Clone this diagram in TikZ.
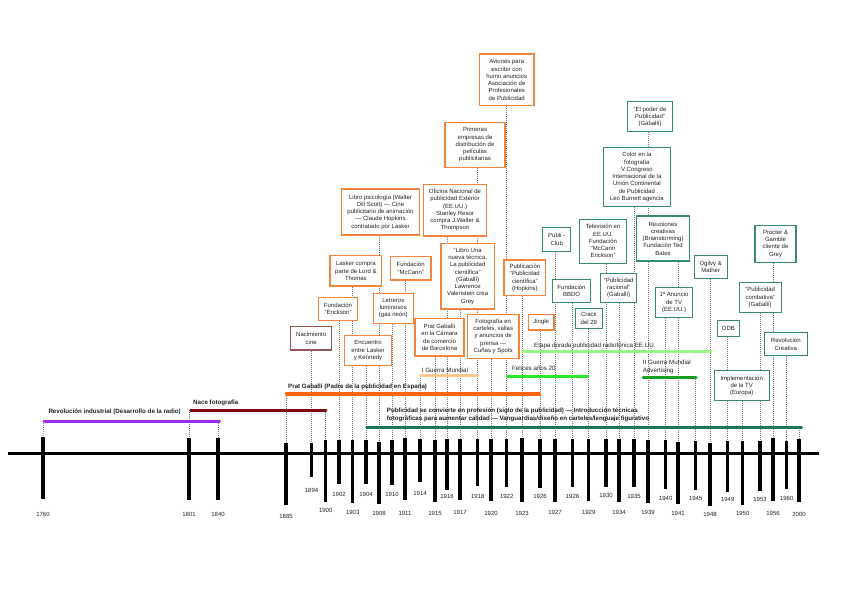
\documentclass[tikz,border=0pt]{standalone}
\usepackage{fontspec}
\setmainfont{Liberation Sans}
\usetikzlibrary{backgrounds}
\definecolor{orangebox}{RGB}{243,132,62}
\definecolor{greenbox}{RGB}{55,140,110}
\definecolor{maroonbox}{RGB}{150,85,85}
\definecolor{leadgray}{RGB}{125,125,125}
\definecolor{txt}{RGB}{35,35,35}
\definecolor{barpurple}{RGB}{160,40,240}
\definecolor{barmaroon}{RGB}{120,12,12}
\definecolor{barorange}{RGB}{255,100,10}
\definecolor{barteal}{RGB}{20,120,90}
\definecolor{barpeach}{RGB}{255,200,140}
\definecolor{barfelices}{RGB}{40,230,40}
\definecolor{baretapa}{RGB}{150,250,130}
\definecolor{barwar}{RGB}{20,160,30}
\tikzset{
  ebox/.style={draw, fill=white, line width=1.3pt, inner sep=0pt, align=center,
    font=\fontsize{6}{7.25}\selectfont, text=txt},
  obox/.style={ebox, draw=orangebox},
  gbox/.style={ebox, draw=greenbox, line width=1.1pt},
  mbox/.style={ebox, draw=maroonbox},
  lead/.style={draw=leadgray, line width=0.6pt, dash pattern=on 1pt off 1pt},
  tickline/.style={line width=3.2pt, black},
  yearlbl/.style={font=\fontsize{6}{7}\selectfont, text=txt, inner sep=0pt},
  bar/.style={line width=3pt, line cap=round},
  barlbl/.style={font=\fontsize{6.2}{8}\selectfont, anchor=west, inner sep=0pt, text=txt, align=left},
  barlblb/.style={barlbl, font=\fontsize{6.2}{8}\selectfont\bfseries},
}
\begin{document}
\begin{tikzpicture}[x=1pt,y=-1pt]
\useasboundingbox (0,0) rectangle (848,600);

% ---------- event boxes ----------
\node[obox, minimum width=54.7pt, minimum height=51.7pt] (aviones) at (506.7,79.9) {Aviones para\\escribir con\\humo anuncios\\Asociación de\\Profesionales\\de Publicidad};
\node[obox, minimum width=60pt, minimum height=45pt] (primeras) at (475,144.8) {Primeras\\empresas de\\distribución de\\películas\\publicitarias};
\node[obox, minimum width=63.4pt, minimum height=51.7pt] (oficina) at (455,210.2) {Oficina Nacional de\\publicidad Exterior\\(EE.UU.)\\Stanley Resor\\compra J.Walter \&\\Thompson};
\node[obox, minimum width=77.6pt, minimum height=46pt] (libropsi) at (380.5,212) {Libro psicología (Walter\\Dill Scott) — Cine\\publicitario de animación\\— Claude Hopkins\\contratado por Lasker};
\node[obox, minimum width=51.7pt, minimum height=30.3pt] (lasker) at (355.9,270.9) {Lasker compra\\parte de Lord \&\\Thomas};
\node[obox, minimum width=40.7pt, minimum height=23.3pt] (mccann) at (410.7,268.4) {Fundación\\“McCann”};
\node[obox, minimum width=39.4pt, minimum height=23.4pt] (erickson) at (338,309) {Fundación\\“Erickson”};
\node[obox, minimum width=40pt, minimum height=30pt] (letreros) at (393.3,308.3) {Letreros\\luminosos\\(gas neón)};
\node[mbox, minimum width=41pt, minimum height=23.3pt] (nacimiento) at (311.2,338.4) {Nacimiento\\cine};
\node[obox, minimum width=47.4pt, minimum height=30pt] (encuentro) at (368,350.7) {Encuentro\\entre Lasker\\y Kennedy};
\node[obox, minimum width=49pt, minimum height=37.7pt] (camara) at (439.5,337.2) {Prat Gaballí\\en la Cámara\\de comercio\\de Barcelona};
\node[obox, minimum width=51.7pt, minimum height=44pt] (fotografia) at (493.2,336.3) {Fotografía en\\carteles, vallas\\y anuncios de\\prensa —\\Cuñas y Spots};
\node[obox, minimum width=53.3pt, minimum height=65.7pt] (librouna) at (467.7,276.2) {“Libro Una\\nueva técnica.\\La publicidad\\científica”\\(Gaballí)\\Lawrence\\Valenstein crea\\Grey};
\node[obox, minimum width=41.7pt, minimum height=35.7pt] (hopkins) at (524.9,277.9) {Publicación\\“Publicidad\\científica”\\(Hopkins)};
\node[obox, minimum width=25.7pt, minimum height=15.7pt] (jingle) at (541.2,322.2) {Jingle};

\node[gbox, minimum width=45.4pt, minimum height=30pt] (poder) at (650,116.7) {“El poder de\\Publicidad”\\(Gaballí)};
\node[gbox, minimum width=66.3pt, minimum height=59.4pt] (color) at (636.9,177) {Color en la\\fotografía\\V Congreso\\Internacional de la\\Unión Continental\\de Publicidad\\Leo Burnett agencia};
\node[gbox, minimum width=28pt, minimum height=23.3pt] (publiclub) at (556.7,239.4) {Publi -\\Club};
\node[gbox, minimum width=47.4pt, minimum height=44pt] (television) at (603,241.3) {Televisión en\\EE.UU.\\Fundación\\“McCann\\Erickson”};
\node[gbox, minimum width=52.6pt, minimum height=45pt] (reuniones) at (663,238.5) {Reuniones\\creativas\\(Brainstorming)\\Fundación Ted\\Bates};
\node[gbox, minimum width=38.4pt, minimum height=23pt] (bbdo) at (571.5,290.8) {Fundación\\BBDO};
\node[gbox, minimum width=36pt, minimum height=29.4pt] (racional) at (618.7,288) {“Publicidad\\racional”\\(Gaballí)};
\node[gbox, minimum width=27.7pt, minimum height=20pt] (crack) at (588.9,318.3) {Crack\\del 29};
\node[gbox, minimum width=36.6pt, minimum height=29.6pt] (anuncio) at (674,302.5) {1º Anuncio\\de TV\\(EE.UU.)};
\node[gbox, minimum width=33.3pt, minimum height=22.6pt] (ogilvy) at (710.7,267) {Ogilvy \&\\Mather};
\node[gbox, minimum width=41pt, minimum height=37.7pt] (procter) at (775.5,243.9) {Procter \&\\Gamble\\cliente de\\Grey};
\node[gbox, minimum width=41.7pt, minimum height=30.4pt] (combativa) at (760.2,297.5) {“Publicidad\\combativa”\\(Gaballí)};
\node[gbox, minimum width=21.6pt, minimum height=16pt] (ddb) at (728.5,328.7) {DDB};
\node[gbox, minimum width=43pt, minimum height=23pt] (revolucion) at (785.8,344.2) {Revolución\\Creativa};
\node[gbox, minimum width=54.7pt, minimum height=30pt] (implementacion) at (741.7,385.7) {Implementación\\de la TV\\(Europa)};

% ---------- period bars ----------
\coordinate (purpleL) at (44,421.3);   \coordinate (purpleR) at (219.5,421.3);
\coordinate (maroonL) at (190.5,410.3); \coordinate (maroonR) at (326,410.3);
\coordinate (orangeL) at (286.5,394);  \coordinate (orangeR) at (539.5,394);
\coordinate (tealL) at (366.5,427.7);  \coordinate (tealR) at (801.5,427.7);
\coordinate (peachL) at (420.5,375.7); \coordinate (peachR) at (477.5,375.7);
\coordinate (felL) at (507,376);       \coordinate (felR) at (587.5,376);
\coordinate (etaL) at (522,351.7);     \coordinate (etaR) at (711,351.7);
\coordinate (warL) at (643,377);       \coordinate (warR) at (696,377);

\draw[bar, barpurple] (purpleL) -- (purpleR);
\draw[bar, barmaroon] (maroonL) -- (maroonR);
\draw[bar, barorange, line width=3.3pt] (orangeL) -- (orangeR);
\draw[bar, barteal] (tealL) -- (tealR);
\draw[bar, barpeach] (peachL) -- (peachR);
\draw[bar, barfelices] (felL) -- (felR);
\draw[bar, baretapa] (etaL) -- (etaR);
\draw[bar, barwar] (warL) -- (warR);

\node[barlblb] (lblrev) at (48.3,412) {Revolución industrial (Desarrollo de la radio)};
\node[barlblb] (lblfoto) at (193,403) {Nace fotografía};
\node[barlblb] (lblprat) at (288,387) {Prat Gaballí (Padre de la publicidad en España)};
\node[barlblb, font=\fontsize{6.2}{8}\selectfont\bfseries] (lblprof) at (386.7,414.7) {Publicidad se convierte en profesión (siglo de la publicidad) — Introducción técnicas\\fotográficas para aumentar calidad — Vanguardias/diseño en carteles/lenguaje figurativo};
\node[barlbl] (lblguerra) at (421.7,370) {I Guerra Mundial};
\node[barlbl] (lblfelices) at (512,368) {Felices años 20};
\node[barlbl] (lbletapa) at (534,345.7) {Etapa dorada publicidad radiofónica EE.UU.};
\node[barlbl, font=\fontsize{6.2}{7.7}\selectfont] (lblwar) at (642.7,366.8) {II Guerra Mundial\\Advertising};

% ---------- time axis ----------
\coordinate (mainL) at (8,453.3);
\coordinate (mainR) at (818.7,453.3);
\draw[line width=3.3pt] (mainL) -- (mainR);
\foreach \yr/\x/\t/\b/\l in {
 1760/43/437/499/514, 1801/189/438/500/514, 1840/218/438/500/514,
 1885/286/443/505/516, 1894/311.5/443/477/490, 1900/325.7/440/502/510,
 1902/339/440/484/494, 1903/352.7/440/503/512, 1904/366/440/484/494,
 1908/379/442/504/513, 1910/392/440/485/494, 1911/405/438/500/513,
 1914/420/439/482/493, 1915/435/440/502/513, 1916/447/439/490/496,
 1917/460/439/500/512, 1918/477.7/439/486/496, 1920/491/439/500.7/513,
 1922/506.7/439/487/496, 1923/522/438/502/513, 1926/540/439/488/496,
 1927/555/439/502/512, 1928/572.5/439/487/496, 1929/588.7/439/500.7/512,
 1930/606/439/486.7/495, 1934/619/439/502/512, 1935/634/439/487/496,
 1939/648/440/502.7/512, 1940/665.7/440/489/498, 1941/678/442/504/513,
 1945/695.7/441/490/498, 1948/710/443/505.7/514, 1949/727.7/441/491.7/499,
 1950/742.7/441/504.7/513, 1953/760/441/490.7/499, 1956/773/438/500.7/513,
 1960/786.7/441/489/498, 2000/799/439/502/514.7}
{
  \coordinate (t\yr) at (\x,\t);
  \coordinate (b\yr) at (\x,\b);
  \draw[tickline] (t\yr) -- (b\yr);
  \node[yearlbl] (l\yr) at (\x,\l) {\yr};
}

% ---------- dotted leaders (behind boxes and bars) ----------
\begin{pgfonlayer}{background}
\fill[white] (0,0) rectangle (848,600);
\draw[lead] (t1760 |- purpleL) -- (t1760);
\draw[lead] (t1801 |- maroonL) -- (t1801);
\draw[lead] (t1840 |- purpleL) -- (t1840);
\draw[lead] (t1885 |- orangeL) -- (t1885);
\draw[lead] (nacimiento.south -| t1894) -- (t1894);
\draw[lead] (t1900 |- maroonL) -- (t1900);
\draw[lead] (erickson.south -| t1902) -- (t1902);
\draw[lead] (lasker.south -| t1903) -- (t1903);
\draw[lead] (encuentro.south -| t1904) -- (t1904);
\draw[lead] (libropsi.south -| t1908) -- (t1908);
\draw[lead] (letreros.south -| t1910) -- (t1910);
\draw[lead] (mccann.south -| t1911) -- (t1911);
\draw[lead] (t1914 |- peachL) -- (t1914);
\draw[lead] (camara.south -| t1915) -- (t1915);
\draw[lead] (oficina.south -| t1916) -- (t1916);
\draw[lead] (librouna.south -| t1917) -- (t1917);
\draw[lead] (primeras.south -| t1918) -- (t1918);
\draw[lead] (fotografia.south -| t1920) -- (t1920);
\draw[lead] (aviones.south -| t1922) -- (t1922);
\draw[lead] (hopkins.south -| t1923) -- (t1923);
\draw[lead] (jingle.south -| t1926) -- (t1926);
\draw[lead] (publiclub.south -| t1927) -- (t1927);
\draw[lead] (bbdo.south -| t1928) -- (t1928);
\draw[lead] (crack.south -| t1929) -- (t1929);
\draw[lead] (television.south -| t1930) -- (t1930);
\draw[lead] (racional.south -| t1934) -- (t1934);
\draw[lead] (color.south -| t1935) -- (t1935);
\draw[lead] (poder.south -| t1939) -- (t1939);
\draw[lead] (anuncio.south -| t1940) -- (t1940);
\draw[lead] (reuniones.south -| t1941) -- (t1941);
\draw[lead] (t1945 |- warL) -- (t1945);
\draw[lead] (ogilvy.south -| t1948) -- (t1948);
\draw[lead] (ddb.south -| t1949) -- (t1949);
\draw[lead] (implementacion.south -| t1950) -- (t1950);
\draw[lead] (combativa.south -| t1953) -- (t1953);
\draw[lead] (procter.south -| t1956) -- (t1956);
\draw[lead] (revolucion.south -| t1960) -- (t1960);
\draw[lead] (t2000 |- tealL) -- (t2000);
\end{pgfonlayer}
\end{tikzpicture}
\end{document}
